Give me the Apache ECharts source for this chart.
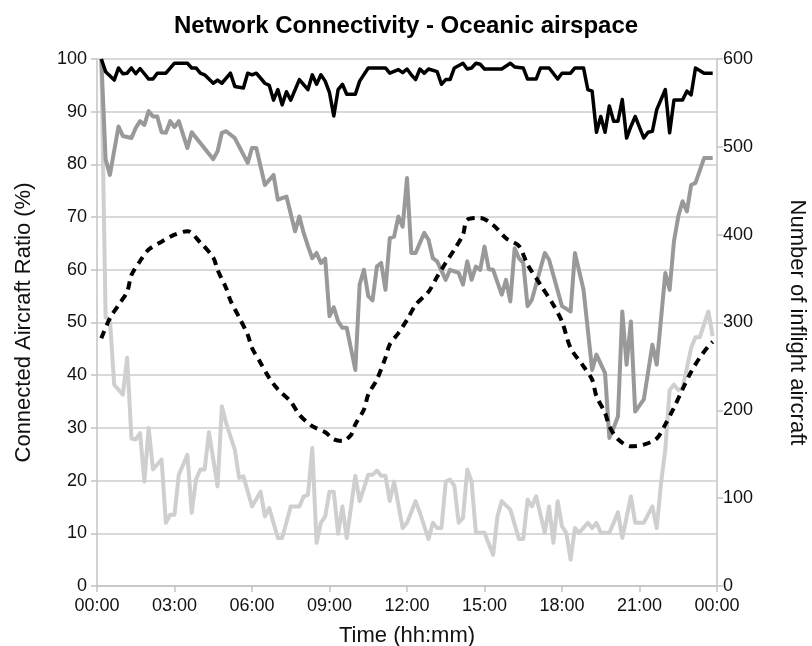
<!DOCTYPE html>
<html>
<head>
<meta charset="utf-8">
<title>Network Connectivity - Oceanic airspace</title>
<script src="https://cdn.jsdelivr.net/npm/echarts@6/dist/echarts.min.js"></script>
<style>
  html, body { margin: 0; padding: 0; background: #ffffff; }
  #chart { width: 812px; height: 646px; }
</style>
</head>
<body>
<div id="chart"></div>
<script>
// Time of day in minutes after midnight, one sample roughly every 10 minutes.
const chartTitle = 'Network Connectivity - Oceanic airspace';
const leftAxisName = 'Connected Aircraft Ratio (%)';
const rightAxisName = 'Number of inflight aircraft';
const timeAxisName = 'Time (hh:mm)';

// Upper ratio curve (black)
const upperTimes = [10,20,40,50,60,70,80,90,100,110,120,130,140,160,180,210,220,230,240,250,270,280,290,310,320,340,350,360,370,390,400,410,420,430,440,450,470,490,500,510,520,530,540,550,560,570,580,600,610,630,670,680,700,710,720,730,740,750,760,770,790,800,810,820,830,850,860,870,880,890,900,940,960,970,990,1000,1020,1030,1050,1070,1080,1100,1110,1130,1140,1150,1160,1170,1180,1190,1200,1210,1220,1230,1240,1250,1270,1280,1290,1300,1320,1330,1340,1360,1370,1380,1390,1410,1430];
const upperRatio = [100,97.6,96,98.3,97.2,97.3,98.3,97.2,98.2,97.2,96.2,96.2,97.3,97.3,99.2,99.2,98.3,98.3,97.3,97,95.4,96,95.4,97.3,94.8,94.5,97.3,97,97.3,95.4,95,92.2,94.2,91.3,93.8,92.2,96.1,94.2,97,95.2,97,95.8,93.6,89.2,94.2,95.2,93.3,93.3,95.8,98.3,98.3,97.3,98,97.4,98.1,97,96.1,98.1,97.3,98.1,97.6,95.2,96.1,96.1,98.3,99.2,98.1,98.3,99.2,99,98.1,98.1,99.2,98.5,98.3,96.2,96.2,98.3,98.3,96.2,97.3,97.3,98.3,98.3,94.2,93.9,86.1,89.1,86.1,91.1,88.2,88.2,92.3,85,87.2,89.1,85,86.1,86.3,90.4,94.2,86,92.2,92.2,93.9,93.2,98.3,97.3,97.3];

// Middle ratio curve (mid grey)
const middleTimes = [10,20,30,50,60,80,90,100,110,120,130,140,150,160,170,180,190,210,220,270,280,290,300,320,350,360,370,390,410,420,440,460,470,480,490,500,510,520,530,540,550,560,570,580,600,610,620,630,640,650,660,670,680,690,700,710,720,730,740,760,770,780,790,810,820,840,850,860,870,880,890,900,910,920,940,950,960,970,980,990,1000,1010,1040,1050,1080,1100,1110,1130,1150,1160,1180,1190,1200,1210,1220,1230,1240,1250,1270,1290,1300,1320,1330,1340,1350,1360,1370,1380,1390,1410,1430];
const middleRatio = [100,81,78,87.2,85.4,85,86.9,88.2,87.5,90.1,89.1,89.1,86.1,86,88.2,87.1,88.2,83.1,86.1,81,82.5,86,86.3,85,80.3,83.1,83.1,76.1,78,73.3,73.9,67.3,70.1,67,64.5,62.2,63.2,61.3,62.1,51.2,52.9,50.2,49,49,41,57.2,60,55,54.2,60.6,61.3,56.2,66,66.3,70.1,68.2,77.4,63.2,63.2,67,65.7,62.2,61.6,58.1,60,59.4,57.2,61.6,58.1,60.6,60,64.4,60.1,60,55.3,58.1,54,64.1,62.2,61.3,53.1,54.3,63.2,61.9,53.1,52.1,63.2,56.2,41,43.9,40.4,28.1,30,32.2,52.1,42,50.2,33.1,35.4,45.8,42,59.4,56.2,65.4,70.1,73,71.1,76.1,76.5,81.2,81.2];

// Lower ratio curve (light grey)
const lowerTimes = [10,20,30,40,60,70,80,90,100,110,120,130,150,160,170,180,190,210,220,230,240,250,260,280,290,300,320,330,340,360,380,390,400,420,430,450,470,480,490,500,510,520,530,540,550,560,570,580,600,610,630,640,650,660,670,680,690,710,720,740,750,770,780,790,800,810,820,830,840,850,860,870,880,900,920,930,940,960,980,990,1000,1010,1020,1040,1050,1060,1070,1080,1090,1100,1110,1120,1140,1150,1160,1170,1190,1200,1210,1220,1240,1250,1270,1290,1300,1310,1320,1330,1340,1350,1360,1380,1390,1400,1420,1430];
const lowerRatio = [100,51,50.5,38.2,36.3,43.3,28,27.8,29,19.8,30,22.1,24,12,13.5,13.5,21.1,24.9,13.9,20.2,22.1,22.1,29.2,18.9,34.1,30.9,25.9,20.5,20.8,15.1,17.9,13.2,14.8,9.1,9.1,15.1,15.1,17,17.3,26.2,8.2,12,13.2,17.9,17.9,9.9,15.1,9.1,20.9,16.1,21.1,21.1,21.9,20.9,20.9,16.1,19.8,11,12,16.1,13.9,8.9,12,11,11,19.8,20.2,19,12,12.9,22.1,19.8,10.1,10.1,5.9,13.2,16.1,14.5,8.9,8.9,16.4,15.1,17,10.1,15.1,8.2,16.1,11.3,10.1,5,11,10.1,12,11,12,10.1,10.1,12,14,9.1,17,12,12,15.1,11,19.5,26,37.2,38.2,37.2,37.5,45.2,47.2,47.2,52.1,47.4];

// Aircraft in flight (dashed, right axis)
const aircraftTimes = [10,30,50,70,80,100,120,150,180,210,240,270,280,300,310,330,350,360,380,400,420,450,470,500,530,550,570,590,600,620,630,650,670,680,700,720,740,770,790,810,830,850,860,890,920,950,980,1000,1030,1060,1080,1100,1130,1150,1160,1180,1190,1210,1240,1270,1300,1320,1340,1360,1380,1400,1420,1430];
const aircraftCount = [282,305,320,335,354,370,383,392,400,404,391,374,360,339,325,306,286,271,254,237,224,210,195,182,175,167,165,172,184,201,218,235,260,275,288,303,320,335,352,368,383,400,417,419,411,396,387,366,343,320,301,271,250,235,216,197,182,167,159,161,168,184,203,224,244,260,273,278];

const timeTickStep = 180;   // every 3 hours
const ratioTickStep = 10;
const countTickStep = 100;

function pairs(times, values) {
  return times.map((t, i) => [t, values[i]]);
}
function hhmm(v) {
  const h = Math.floor(v / 60) % 24;
  const m = Math.round(v % 60);
  return String(h).padStart(2, '0') + ':' + String(m).padStart(2, '0');
}

const FONT = '"Liberation Sans", Arial, Helvetica, sans-serif';
const axisGrey = '#c4c4c4';
const textColor = '#111111';

const chart = echarts.init(document.getElementById('chart'), null, { renderer: 'canvas' });

chart.setOption({
  animation: false,
  backgroundColor: '#ffffff',
  title: {
    text: chartTitle,
    left: 'center',
    top: 9,
    textStyle: { fontFamily: FONT, fontSize: 24, fontWeight: 'bold', color: '#000' }
  },
  grid: { left: 97, right: 95, top: 59, bottom: 60, containLabel: false, outerBoundsMode: 'none' },
  xAxis: {
    type: 'value',
    min: 0,
    max: 1440,
    interval: timeTickStep,
    name: timeAxisName,
    nameLocation: 'middle',
    nameGap: 39,
    nameTextStyle: { fontFamily: FONT, fontSize: 22, color: textColor },
    axisLine: { show: true, lineStyle: { color: axisGrey, width: 1.5 } },
    axisTick: { show: true, length: 6, lineStyle: { color: axisGrey, width: 1.5 } },
    axisLabel: { formatter: hhmm, fontFamily: FONT, fontSize: 18, color: textColor, margin: 11 },
    splitLine: { show: false }
  },
  yAxis: [
    {
      type: 'value',
      position: 'left',
      min: 0,
      max: 100,
      interval: ratioTickStep,
      name: leftAxisName,
      nameLocation: 'middle',
      nameGap: 62,
      nameTextStyle: { fontFamily: FONT, fontSize: 22, color: textColor },
      axisLine: { show: true, lineStyle: { color: axisGrey, width: 1.5 } },
      axisTick: { show: true, length: 6, lineStyle: { color: axisGrey, width: 1.5 } },
      axisLabel: { fontFamily: FONT, fontSize: 18, color: textColor, margin: 10 },
      splitLine: { show: true, lineStyle: { color: '#cccccc', width: 1.5 } }
    },
    {
      type: 'value',
      position: 'right',
      min: 0,
      max: 600,
      interval: countTickStep,
      name: rightAxisName,
      nameLocation: 'middle',
      nameRotate: -90,
      nameGap: 69,
      nameTextStyle: { fontFamily: FONT, fontSize: 22, color: textColor },
      axisLine: { show: true, lineStyle: { color: axisGrey, width: 1.5 } },
      axisTick: { show: true, length: 6, lineStyle: { color: axisGrey, width: 1.5 } },
      axisLabel: { fontFamily: FONT, fontSize: 18, color: textColor, margin: 6 },
      splitLine: { show: false }
    }
  ],
  series: [
    {
      name: 'Lower ratio',
      type: 'line',
      yAxisIndex: 0,
      data: pairs(lowerTimes, lowerRatio),
      showSymbol: false,
      lineStyle: { color: '#cfcfcf', width: 4, join: 'round' },
      z: 2
    },
    {
      name: 'Middle ratio',
      type: 'line',
      yAxisIndex: 0,
      data: pairs(middleTimes, middleRatio),
      showSymbol: false,
      lineStyle: { color: '#999999', width: 4, join: 'round' },
      z: 3
    },
    {
      name: 'Aircraft in flight',
      type: 'line',
      yAxisIndex: 1,
      data: pairs(aircraftTimes, aircraftCount),
      showSymbol: false,
      smooth: 0.3,
      lineStyle: { color: '#000000', width: 4, type: [8, 6], cap: 'butt' },
      z: 4
    },
    {
      name: 'Upper ratio',
      type: 'line',
      yAxisIndex: 0,
      data: pairs(upperTimes, upperRatio),
      showSymbol: false,
      lineStyle: { color: '#000000', width: 3.5, join: 'round' },
      z: 5
    }
  ]
});
</script>
</body>
</html>
